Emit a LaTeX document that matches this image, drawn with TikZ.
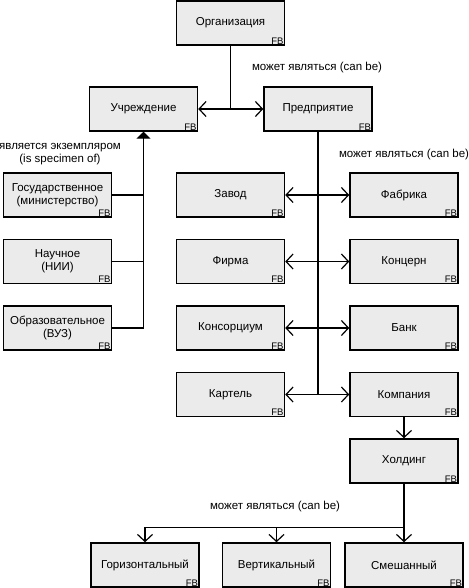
\documentclass[tikz,border=0pt]{standalone}
\usepackage{fontspec}
\setmainfont{Liberation Sans}
\usetikzlibrary{arrows.meta,positioning}

\begin{document}
\begin{tikzpicture}[
  x=1pt, y=1pt,
  node distance=21pt and 21pt,
  font=\fontsize{11.5}{13}\selectfont,
  fb/.style={anchor=south east, inner sep=1.5pt, font=\fontsize{9.5}{10}\selectfont},
  box/.style={draw, line width=1.5pt, fill=black!8, align=center, minimum width=108pt, minimum height=44pt, inner sep=2pt, label={[fb]south east:FB}},
  arr/.style={-{Straight Barb[length=7pt, width=15pt]}, line width=1.2pt},
  both/.style={{Straight Barb[length=7pt, width=15pt]}-{Straight Barb[length=7pt, width=15pt]}, line width=1.2pt},
  isa/.style={-{Triangle[length=7pt, width=14pt]}, line width=1.2pt},
  link/.style={line width=1.2pt},
  note/.style={align=center, inner sep=1pt}
]
\useasboundingbox (0,0) rectangle (468,-588);

\node[box] (org) at (230.5,-23) {Организация};
\node[box] (inst) at (143.5,-109) {Учреждение};
\node[box, right=65pt of inst] (ent) {Предприятие};

\node[box] (gos) at (57.5,-195) {Государственное\\(министерство)};
\node[box, below=of gos] (nauch) {Научное\\(НИИ)};
\node[box, below=of nauch] (obr) {Образовательное\\(ВУЗ)};

\node[box] (zavod) at (230.5,-195) {Завод};
\node[box, below=of zavod] (firma) {Фирма};
\node[box, below=of firma] (kons) {Консорциум};
\node[box, below=of kons] (kart) {Картель};

\node[box] (fabr) at (404,-195) {Фабрика};
\node[box, below=of fabr] (konc) {Концерн};
\node[box, below=of konc] (bank) {Банк};
\node[box, below=of bank] (komp) {Компания};
\node[box, below=of komp] (hold) {Холдинг};

\node[box] (gor) at (145,-565) {Горизонтальный};
\node[box, right=22pt of gor] (vert) {Вертикальный};
\node[box, right=13pt of vert, minimum width=118pt] (smesh) {Смешанный};

\node[note] (canbe1) at (317,-68) {может являться (can be)};
\node[note] (canbe2) at (404,-155) {может являться (can be)};
\node[note] (canbe3) at (275,-507) {может являться (can be)};
\node[note] (specimen) at (60,-154) {является экземпляром\\(is specimen of)};

% organisation splits in two
\draw[link] (org.south) -- (org.south |- inst.east) coordinate (fork);
\draw[arr] (fork) -- (inst.east);
\draw[arr] (fork) -- (ent.west);

% kinds of institution
\draw[isa] (obr.east) -| (inst.south);
\draw[link] (gos.east) -- (gos.east -| inst.south);
\draw[link] (nauch.east) -- (nauch.east -| inst.south);

% kinds of enterprise
\draw[link] (ent.south) -- (ent.south |- kart.east);
\foreach \a/\b in {zavod/fabr, firma/konc, kons/bank, kart/komp}
  \draw[both] (\a.east) -- (\b.west);
\draw[arr] (komp) -- (hold);

% kinds of holding
\path (hold.south) ++(0,-44) coordinate (split);
\draw[arr] (hold.south) -- (hold.south |- smesh.north);
\draw[arr] (split) -| (gor.north);
\draw[arr] (split -| vert.north) -- (vert.north);
\end{tikzpicture}
\end{document}
